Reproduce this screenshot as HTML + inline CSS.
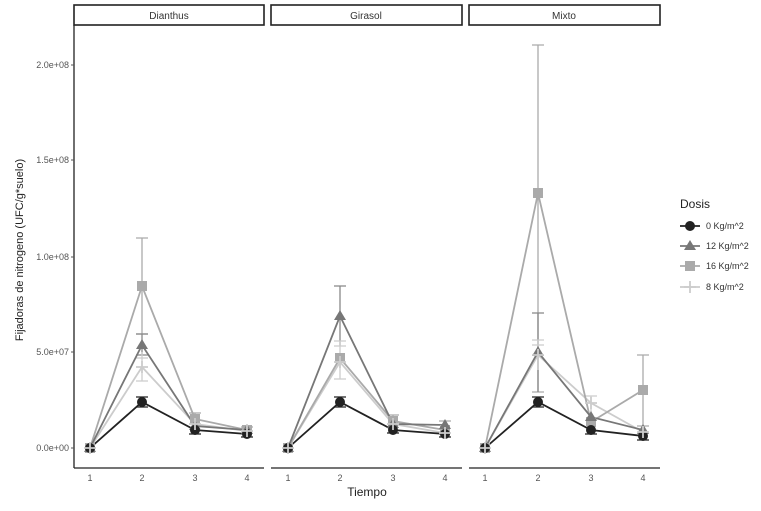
<!DOCTYPE html>
<html><head><meta charset="utf-8"><style>body{margin:0;background:#fff}</style></head><body>
<svg width="761" height="506" xmlns="http://www.w3.org/2000/svg" font-family="Liberation Sans, sans-serif">
<rect width="761" height="506" fill="#fff"/>
<g stroke="#222" stroke-width="1.6" fill="#fff">
<rect x="74" y="5" width="190" height="20"/><rect x="271" y="5" width="191" height="20"/><rect x="469" y="5" width="191" height="20"/>
</g>
<g font-size="10" fill="#333" text-anchor="middle">
<text x="169" y="19">Dianthus</text><text x="366" y="19">Girasol</text><text x="564" y="19">Mixto</text>
</g>
<g stroke="#222" stroke-width="1.3">
<line x1="74" y1="25" x2="74" y2="468"/>
<line x1="74" y1="468" x2="264" y2="468"/><line x1="271" y1="468" x2="462" y2="468"/><line x1="469" y1="468" x2="660" y2="468"/>
</g>
<g stroke="#555" stroke-width="1">
<line x1="71" y1="65" x2="74" y2="65"/><line x1="71" y1="160" x2="74" y2="160"/><line x1="71" y1="257" x2="74" y2="257"/><line x1="71" y1="352" x2="74" y2="352"/><line x1="71" y1="448" x2="74" y2="448"/>
</g>
<g font-size="9" fill="#555" text-anchor="end">
<text x="69" y="68">2.0e+08</text><text x="69" y="163">1.5e+08</text><text x="69" y="260">1.0e+08</text><text x="69" y="355">5.0e+07</text><text x="69" y="451">0.0e+00</text>
</g>
<g font-size="9" fill="#555" text-anchor="middle">
<text x="90" y="481">1</text><text x="142" y="481">2</text><text x="195" y="481">3</text><text x="247" y="481">4</text>
<text x="288" y="481">1</text><text x="340" y="481">2</text><text x="393" y="481">3</text><text x="445" y="481">4</text>
<text x="485" y="481">1</text><text x="538" y="481">2</text><text x="591" y="481">3</text><text x="643" y="481">4</text>
</g>
<text x="367" y="496" font-size="12" fill="#222" text-anchor="middle">Tiempo</text>
<text transform="translate(23,250) rotate(-90)" font-size="11" fill="#222" text-anchor="middle">Fijadoras de nitrogeno (UFC/g*suelo)</text>

<g stroke-width="1.3" fill="none">
<path stroke="#aaa" d="M142 238V334M136 238H148M136 334H148"/>
<path stroke="#888" d="M142 334V355M136 334H148M136 355H148"/>
<path stroke="#ccc" d="M142 352V381M136 358H148M136 381H148"/>
<path stroke="#222" d="M142 397V407M136 397H148M136 407H148M195 427V434M189 434H201M241 437H253"/>
<path stroke="#aaa" d="M195 413V424M189 413H201M241 427H253"/>
<path stroke="#888" d="M340 286V346M334 286H346"/>
<path stroke="#ccc" d="M340 341V379M334 341H346M334 346H346M334 379H346"/>
<path stroke="#222" d="M340 397V407M334 397H346M334 407H346M387 433H399M439 437H451"/>
<path stroke="#aaa" d="M393 415V426M387 415H399M439 421H451"/>
<path stroke="#aaa" d="M538 45V392M532 45H544M532 392H544"/>
<path stroke="#888" d="M538 313V392M532 313H544"/>
<path stroke="#ccc" d="M538 340V370M532 340H544M532 345H544"/>
<path stroke="#222" d="M538 397V407M532 397H544M532 407H544M585 434H597M637 440H649"/>
<path stroke="#ccc" d="M591 396V412M585 396H597"/>
<path stroke="#aaa" d="M643 355V428M637 355H649M637 426H649"/>
</g>

<g fill="none" stroke-width="1.8">
<polyline stroke="#ccc" points="90,448 142,367 195,424 247,431"/>
<polyline stroke="#aaa" points="90,448 142,286 195,419 247,430"/>
<polyline stroke="#777" points="90,448 142,345 195,426 247,430"/>
<polyline stroke="#222" points="90,448 142,402 195,430 247,434"/>
<polyline stroke="#ccc" points="288,448 340,362 393,424 445,433"/>
<polyline stroke="#aaa" points="288,448 340,358 393,421 445,430"/>
<polyline stroke="#777" points="288,448 340,316 393,424 445,425"/>
<polyline stroke="#222" points="288,448 340,402 393,430 445,434"/>
<polyline stroke="#ccc" points="485,448 538,355 591,403 643,432"/>
<polyline stroke="#aaa" points="485,448 538,193 591,422 643,390"/>
<polyline stroke="#777" points="485,448 538,352 591,417 643,430"/>
<polyline stroke="#222" points="485,448 538,402 591,430 643,436"/>
</g>

<defs>
<g id="c"><circle r="5" fill="#222"/></g>
<g id="t"><path d="M0,-6L6,4H-6Z" fill="#777"/></g>
<g id="s"><rect x="-5" y="-5" width="10" height="10" fill="#aaa"/></g>
<g id="p"><path d="M-6,0H6M0,-6V6" stroke="#ccc" stroke-width="1.8"/></g>
</defs>
<g>
<use href="#s" x="90" y="448"/><use href="#s" x="142" y="286"/><use href="#s" x="195" y="419"/><use href="#s" x="247" y="430"/>
<use href="#t" x="90" y="448"/><use href="#t" x="142" y="345"/><use href="#t" x="195" y="426"/><use href="#t" x="247" y="430"/>
<use href="#c" x="90" y="448"/><use href="#c" x="142" y="402"/><use href="#c" x="195" y="430"/><use href="#c" x="247" y="434"/>
<use href="#p" x="90" y="448"/><use href="#p" x="142" y="367"/><use href="#p" x="195" y="424"/><use href="#p" x="247" y="431"/>

<use href="#s" x="288" y="448"/><use href="#s" x="340" y="358"/><use href="#s" x="393" y="421"/><use href="#s" x="445" y="430"/>
<use href="#t" x="288" y="448"/><use href="#t" x="340" y="316"/><use href="#t" x="393" y="424"/><use href="#t" x="445" y="425"/>
<use href="#c" x="288" y="448"/><use href="#c" x="340" y="402"/><use href="#c" x="393" y="430"/><use href="#c" x="445" y="434"/>
<use href="#p" x="288" y="448"/><use href="#p" x="340" y="362"/><use href="#p" x="393" y="424"/><use href="#p" x="445" y="433"/>

<use href="#s" x="485" y="448"/><use href="#s" x="538" y="193"/><use href="#s" x="591" y="422"/><use href="#s" x="643" y="390"/>
<use href="#t" x="485" y="448"/><use href="#t" x="538" y="352"/><use href="#t" x="591" y="417"/><use href="#t" x="643" y="430"/>
<use href="#c" x="485" y="448"/><use href="#c" x="538" y="402"/><use href="#c" x="591" y="430"/><use href="#c" x="643" y="436"/>
<use href="#p" x="485" y="448"/><use href="#p" x="538" y="355"/><use href="#p" x="591" y="403"/><use href="#p" x="643" y="432"/>
</g>

<text x="680" y="208" font-size="12" fill="#222">Dosis</text>
<g stroke-width="1.8">
<line x1="680" y1="226" x2="700" y2="226" stroke="#222"/><use href="#c" x="690" y="226"/>
<line x1="680" y1="246" x2="700" y2="246" stroke="#777"/><use href="#t" x="690" y="246"/>
<line x1="680" y1="266" x2="700" y2="266" stroke="#aaa"/><use href="#s" x="690" y="266"/>
<line x1="680" y1="287" x2="700" y2="287" stroke="#ccc"/><use href="#p" x="690" y="287"/>
</g>
<g font-size="9" fill="#333">
<text x="706" y="229">0 Kg/m^2</text><text x="706" y="249">12 Kg/m^2</text><text x="706" y="269">16 Kg/m^2</text><text x="706" y="290">8 Kg/m^2</text>
</g>
</svg>
</body></html>
